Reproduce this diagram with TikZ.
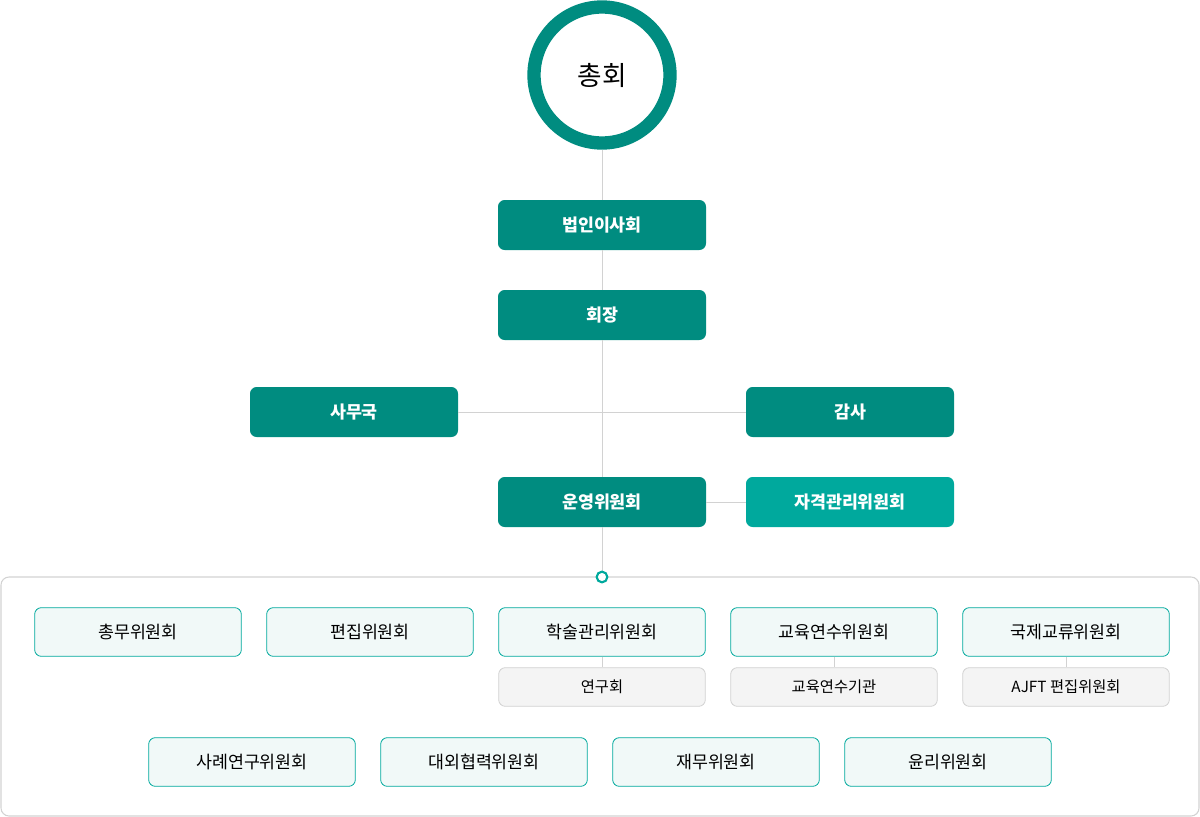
\documentclass[tikz,border=0pt]{standalone}
\usepackage{fontspec}
\setmainfont{Noto Sans CJK KR}
\usetikzlibrary{positioning}
\definecolor{teal1}{HTML}{008C80}
\definecolor{teal2}{HTML}{00A99D}
\definecolor{palebg}{HTML}{F1F9F8}
\definecolor{subbg}{HTML}{F4F4F4}
\definecolor{lineg}{HTML}{D2D2D2}
\tikzset{
  headbox/.style = {rectangle, rounded corners=5pt, fill=teal1, text=white,
    minimum width=156pt, minimum height=37.5pt, font=\fontsize{13}{15}\selectfont\bfseries},
  cmtbox/.style = {rectangle, rounded corners=5pt, fill=palebg, draw=teal2, line width=0.6pt,
    minimum width=155pt, minimum height=36.5pt, font=\fontsize{13}{15}\selectfont},
  subbox/.style = {rectangle, rounded corners=5pt, fill=subbg, draw=lineg, line width=0.6pt,
    minimum width=155pt, minimum height=29pt, font=\fontsize{11.5}{14}\selectfont},
  link/.style = {draw=lineg, line width=0.6pt}
}
\begin{document}
\begin{tikzpicture}[x=0.75pt, y=-0.75pt]
\useasboundingbox (0,0) rectangle (1200,817);

% frame
\draw[lineg, line width=0.8pt, rounded corners=6pt] (1,577) rectangle (1199,816);

% head
\node (chief) [circle, draw=teal1, line width=10pt, fill=white, minimum size=102pt,
  font=\fontsize{20}{24}\selectfont] at (602,75) {총회};
\node (board) [headbox] at (602,225) {법인이사회};
\node (pres) [headbox] at (602,315) {회장};
\node (office) [headbox] at (354,412) {사무국};
\node (audit) [headbox] at (850,412) {감사};
\node (oper) [headbox] at (602,502) {운영위원회};
\node (qual) [headbox, fill=teal2] at (850,502) {자격관리위원회};
\coordinate (hub) at (602,577);

\path[link] (chief) -- (board) (board) -- (pres) (pres) -- (oper) (oper) -- (hub)
  (office) -- (audit) (oper) -- (qual);
\node (dot) [circle, draw=teal2, line width=1.6pt, fill=white, inner sep=0pt, minimum size=8pt] at (hub) {};

% committees
\node (gen) [cmtbox] at (138,632) {총무위원회};
\node (edit) [cmtbox] at (370,632) {편집위원회};
\node (acad) [cmtbox] at (602,632) {학술관리위원회};
\node (edu) [cmtbox] at (834,632) {교육연수위원회};
\node (intl) [cmtbox] at (1066,632) {국제교류위원회};
\node (study) [subbox] at (602,687) {연구회};
\node (inst) [subbox] at (834,687) {교육연수기관};
\node (ajft) [subbox] at (1066,687) {AJFT 편집위원회};
\path[link] (acad) -- (study) (edu) -- (inst) (intl) -- (ajft);
\node (case) [cmtbox] at (252,762) {사례연구위원회};
\node (ext) [cmtbox] at (484,762) {대외협력위원회};
\node (fin) [cmtbox] at (716,762) {재무위원회};
\node (eth) [cmtbox] at (948,762) {윤리위원회};
\end{tikzpicture}
\end{document}
